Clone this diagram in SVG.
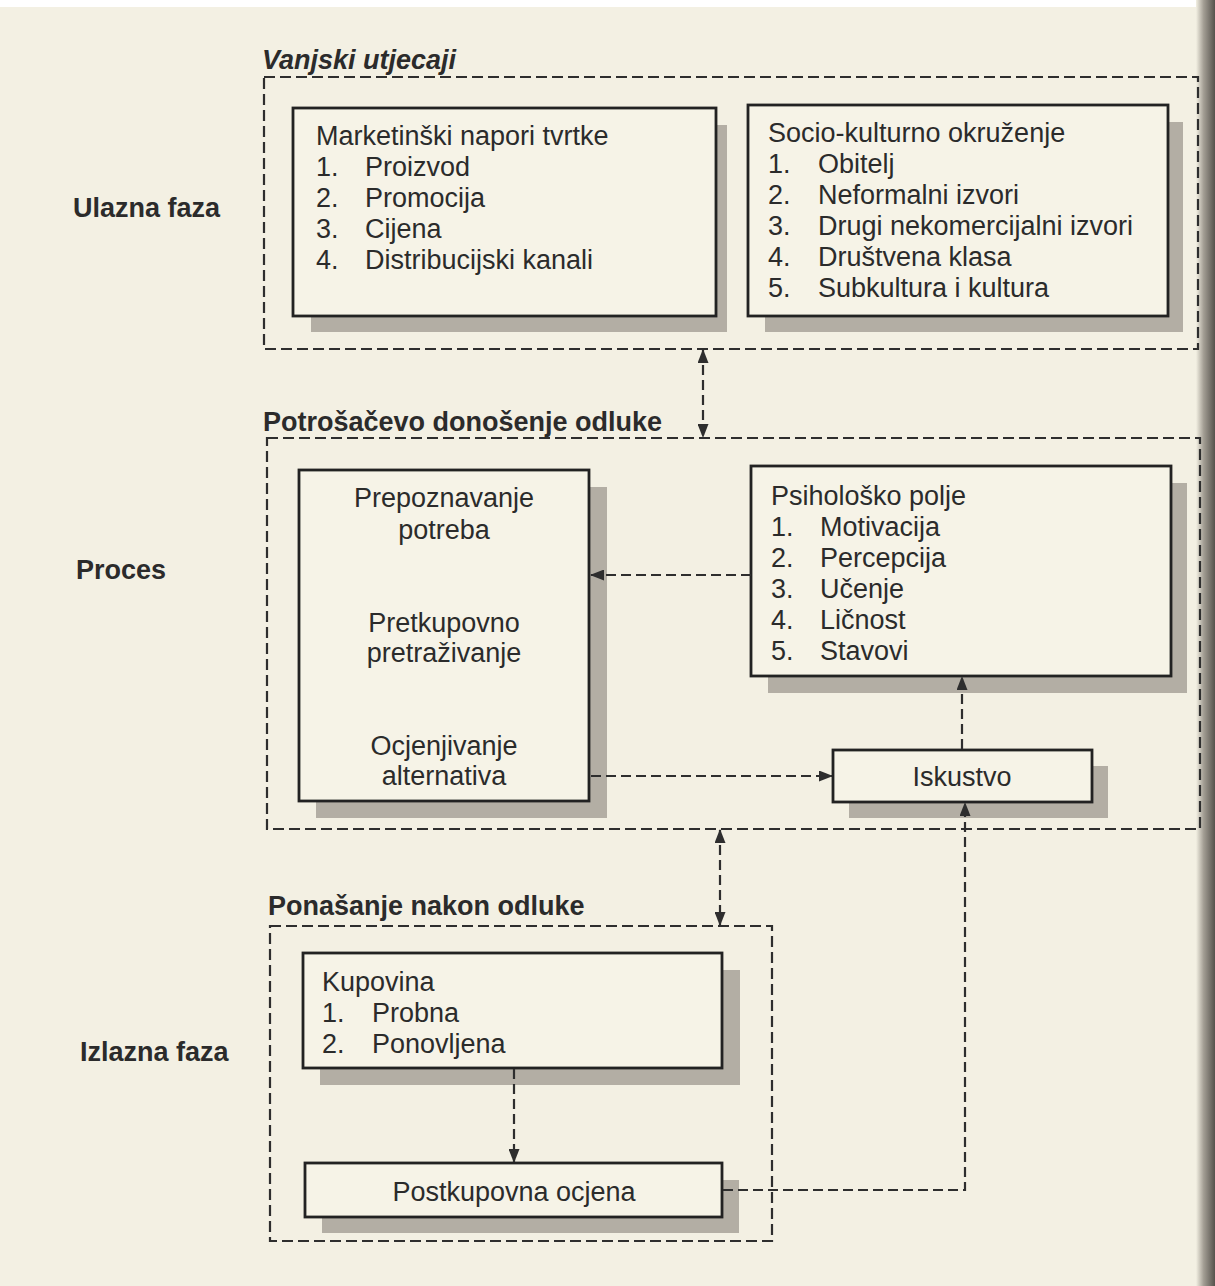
<svg xmlns="http://www.w3.org/2000/svg" width="1215" height="1286" viewBox="0 0 1215 1286">
<defs>
<style>
.t{font-family:"Liberation Sans",Arial,sans-serif;font-size:27px;fill:#2b2b2b}
.h{font-family:"Liberation Sans",Arial,sans-serif;font-size:27px;font-weight:bold;fill:#2b2b2b}
.c{text-anchor:middle}
.box{fill:#f6f3e7;stroke:#222;stroke-width:2.8}
.sh{fill:#b3aea4}
.grp{fill:none;stroke:#2e2e2e;stroke-width:2.2;stroke-dasharray:11 5}
.con{fill:none;stroke:#2e2e2e;stroke-width:2.2;stroke-dasharray:10 5}
</style>
<marker id="ah" viewBox="0 0 14 11" refX="13" refY="5.5" markerWidth="14" markerHeight="11" markerUnits="userSpaceOnUse" orient="auto-start-reverse">
<path d="M0,0 L14,5.5 L0,11 Z" fill="#2e2e2e"/>
</marker>
<linearGradient id="edge" x1="0" y1="0" x2="1" y2="0">
<stop offset="0" stop-color="#f3f0e3"/>
<stop offset="0.4" stop-color="#a39e94"/>
<stop offset="1" stop-color="#55524c"/>
</linearGradient>
</defs>
<rect x="0" y="0" width="1215" height="1286" fill="#f3f0e3"/>
<rect x="0" y="0" width="1215" height="7" fill="#ffffff"/>
<rect x="1196" y="0" width="19" height="1286" fill="url(#edge)"/>

<g id="stage-labels">
<text class="h" x="73" y="217">Ulazna faza</text>
<text class="h" x="76" y="579">Proces</text>
<text class="h" x="80" y="1061">Izlazna faza</text>
</g>

<g id="group-vanjski">
<text class="h" x="262" y="69" font-style="italic">Vanjski utjecaji</text>
<rect class="grp" x="264" y="77" width="934" height="272"/>
</g>
<g id="group-potrosacevo">
<text class="h" x="263" y="431">Potrošačevo donošenje odluke</text>
<rect class="grp" x="267" y="438" width="933" height="391"/>
</g>
<g id="group-ponasanje">
<text class="h" x="268" y="915">Ponašanje nakon odluke</text>
<rect class="grp" x="270" y="926" width="502" height="315"/>
</g>

<g id="node-marketinski">
<rect class="sh" x="311" y="125" width="416" height="207"/>
<rect class="box" x="293" y="108" width="423" height="208"/>
<text class="t" x="316" y="145">Marketinški napori tvrtke</text>
<text class="t" x="316" y="176">1.</text><text class="t" x="365" y="176">Proizvod</text>
<text class="t" x="316" y="207">2.</text><text class="t" x="365" y="207">Promocija</text>
<text class="t" x="316" y="238">3.</text><text class="t" x="365" y="238">Cijena</text>
<text class="t" x="316" y="269">4.</text><text class="t" x="365" y="269">Distribucijski kanali</text>
</g>

<g id="node-socio">
<rect class="sh" x="765" y="122" width="418" height="210"/>
<rect class="box" x="748" y="105" width="420" height="211"/>
<text class="t" x="768" y="142">Socio-kulturno okruženje</text>
<text class="t" x="768" y="173">1.</text><text class="t" x="818" y="173">Obitelj</text>
<text class="t" x="768" y="204">2.</text><text class="t" x="818" y="204">Neformalni izvori</text>
<text class="t" x="768" y="235">3.</text><text class="t" x="818" y="235">Drugi nekomercijalni izvori</text>
<text class="t" x="768" y="266">4.</text><text class="t" x="818" y="266">Društvena klasa</text>
<text class="t" x="768" y="297">5.</text><text class="t" x="818" y="297">Subkultura i kultura</text>
</g>

<g id="node-proces">
<rect class="sh" x="316" y="487" width="291" height="331"/>
<rect class="box" x="299" y="470" width="290" height="331"/>
<text class="t c" x="444" y="507">Prepoznavanje</text>
<text class="t c" x="444" y="539">potreba</text>
<text class="t c" x="444" y="632">Pretkupovno</text>
<text class="t c" x="444" y="662">pretraživanje</text>
<text class="t c" x="444" y="755">Ocjenjivanje</text>
<text class="t c" x="444" y="785">alternativa</text>
</g>

<g id="node-psiholosko">
<rect class="sh" x="768" y="483" width="419" height="210"/>
<rect class="box" x="751" y="466" width="420" height="210"/>
<text class="t" x="771" y="505">Psihološko polje</text>
<text class="t" x="771" y="536">1.</text><text class="t" x="820" y="536">Motivacija</text>
<text class="t" x="771" y="567">2.</text><text class="t" x="820" y="567">Percepcija</text>
<text class="t" x="771" y="598">3.</text><text class="t" x="820" y="598">Učenje</text>
<text class="t" x="771" y="629">4.</text><text class="t" x="820" y="629">Ličnost</text>
<text class="t" x="771" y="660">5.</text><text class="t" x="820" y="660">Stavovi</text>
</g>

<g id="node-iskustvo">
<rect class="sh" x="849" y="766" width="259" height="52"/>
<rect class="box" x="833" y="750" width="259" height="52"/>
<text class="t c" x="962" y="786">Iskustvo</text>
</g>

<g id="node-kupovina">
<rect class="sh" x="320" y="970" width="420" height="115"/>
<rect class="box" x="303" y="953" width="419" height="115"/>
<text class="t" x="322" y="991">Kupovina</text>
<text class="t" x="322" y="1022">1.</text><text class="t" x="372" y="1022">Probna</text>
<text class="t" x="322" y="1053">2.</text><text class="t" x="372" y="1053">Ponovljena</text>
</g>

<g id="node-postkupovna">
<rect class="sh" x="322" y="1180" width="417" height="53"/>
<rect class="box" x="305" y="1163" width="417" height="54"/>
<text class="t c" x="514" y="1201">Postkupovna ocjena</text>
</g>

<g id="connectors">
<line class="con" x1="703" y1="350" x2="703" y2="437" marker-start="url(#ah)" marker-end="url(#ah)"/>
<line class="con" x1="751" y1="575" x2="591" y2="575" marker-end="url(#ah)"/>
<line class="con" x1="591" y1="776" x2="832" y2="776" marker-end="url(#ah)"/>
<line class="con" x1="962" y1="749" x2="962" y2="677" marker-end="url(#ah)"/>
<line class="con" x1="720" y1="830" x2="720" y2="925" marker-start="url(#ah)" marker-end="url(#ah)"/>
<line class="con" x1="514" y1="1069" x2="514" y2="1162" marker-end="url(#ah)"/>
<polyline class="con" points="723,1190 965,1190 965,803" marker-end="url(#ah)"/>
</g>
</svg>
